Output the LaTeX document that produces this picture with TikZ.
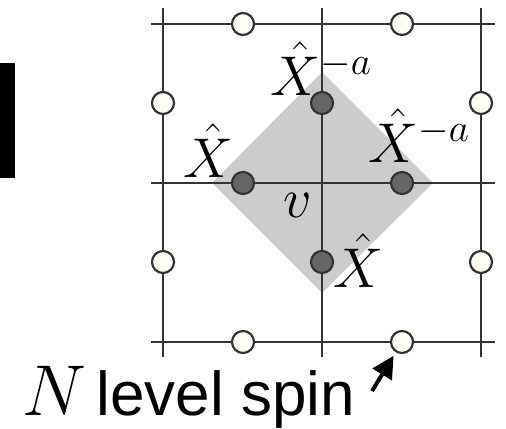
\RequirePackage{fix-cm}
\documentclass[tikz,border=0pt]{standalone}
\usepackage{fontspec}
\newfontfamily\spinfont{Liberation Sans}
\usetikzlibrary{arrows.meta, positioning}

\begin{document}
\begin{tikzpicture}[x=0.5pt, y=-0.5pt,
  grid/.style={line width=1.1pt, draw=black!80},
  spin/.style={circle, draw=black!80, line width=1.1pt, fill=yellow!3, minimum size=11pt, inner sep=0pt},
  opsite/.style={circle, draw=black!80, line width=1.1pt, fill=black!60, minimum size=11pt, inner sep=0pt},
  lab/.style={inner sep=0pt, anchor=base west, font=\fontsize{28}{32}\selectfont},
  arr/.style={-{Triangle[length=11pt, width=11pt]}, line width=2pt}
]
  \useasboundingbox (0,0) rectangle (506,428);
  \fill[black] (0,63) rectangle (15,178);

  % plaquette around v
  \coordinate (v) at (322,183);
  \fill[black!20] (322,72) -- (433,183) -- (322,293) -- (212,183) -- cycle;

  % lattice
  \foreach \y in {24,183,342} \draw[grid] (151,\y) -- (495,\y);
  \foreach \x in {163,322,481} \draw[grid] (\x,8) -- (\x,357);

  % spins on the links
  \node[spin] (sT1) at (243,24) {};
  \node[spin] (sT2) at (402,24) {};
  \node[spin] (sB1) at (243,342) {};
  \node[spin] (sB2) at (402,342) {};
  \node[spin] (sL1) at (163,103) {};
  \node[spin] (sL2) at (163,262) {};
  \node[spin] (sR1) at (481,103) {};
  \node[spin] (sR2) at (481,262) {};

  \node[opsite] (oN) at (322,103) {};
  \node[opsite] (oW) at (243,183) {};
  \node[opsite] (oE) at (402,183) {};
  \node[opsite] (oS) at (322,262) {};

  \node[lab] (lN) at (270,95) {$\hat{X}^{-a}$};
  \node[lab] (lE) at (368,162) {$\hat{X}^{-a}$};
  \node[lab] (lW) at (183,177) {$\hat{X}$};
  \node[lab] (lS) at (333,287) {$\hat{X}$};
  \node[lab] (lv) at (283,217) {$v$};

  \node[inner sep=0pt, anchor=base west] (spinlab) at (22,415)
    {\fontsize{36}{40}\selectfont$N$\hspace{5pt}{\spinfont\fontsize{31}{36}\selectfont level spin}};
  \coordinate (tail) at (372,391);
  \draw[arr, shorten >=2pt] (tail) -- (sB2);
\end{tikzpicture}
\end{document}
